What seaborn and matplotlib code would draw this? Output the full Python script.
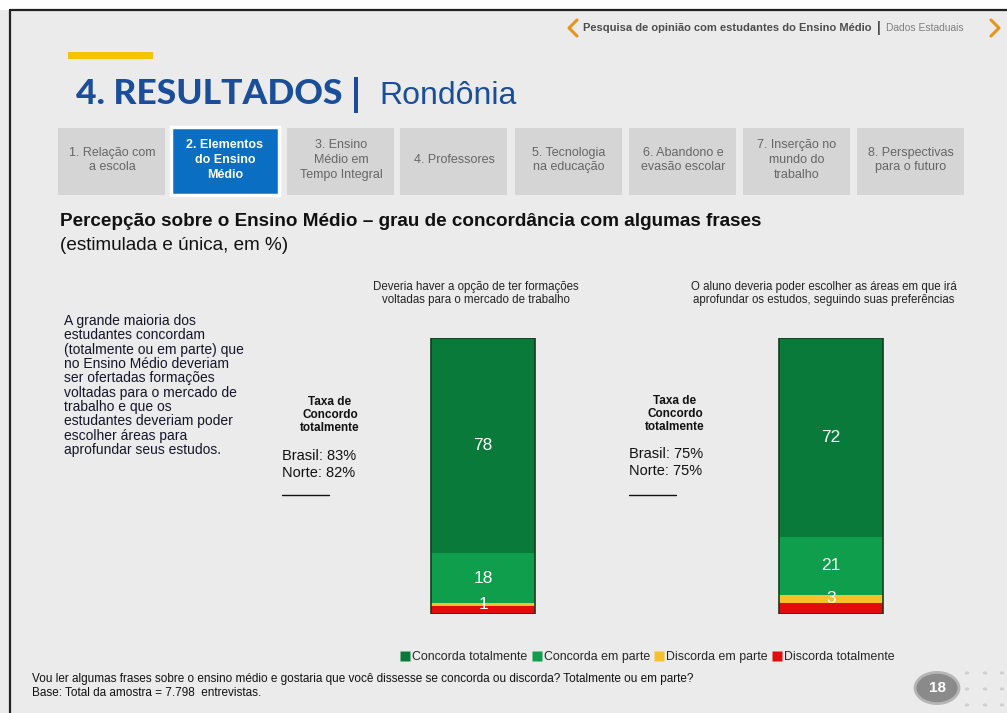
import matplotlib
matplotlib.use("Agg")
import matplotlib.pyplot as plt
from matplotlib.patches import Rectangle, Circle
from matplotlib.lines import Line2D
import seaborn as sns
import pandas as pd
import numpy as np

# ---------------- data ----------------
questions = ["Deveria haver a opção de ter formações\nvoltadas para o mercado de trabalho",
             "O aluno deveria poder escolher as áreas em que irá\naprofundar os estudos, seguindo suas preferências"]
categories = ["Concorda totalmente", "Concorda em parte", "Discorda em parte", "Discorda totalmente"]
concorda_totalmente = [78, 72]
concorda_em_parte = [18, 21]
discorda_em_parte = [1, 3]
discorda_totalmente = [3, 4]
labeled = ["Concorda totalmente", "Concorda em parte", "Discorda em parte"]
brasil_rate = [83, 75]
norte_rate = [82, 75]
tabs = ["1. Relação com\na escola", "2. Elementos\ndo Ensino\nMédio", "3. Ensino\nMédio em\nTempo Integral",
        "4. Professores", "5. Tecnologia\nna educação", "6. Abandono e\nevasão escolar",
        "7. Inserção no\nmundo do\ntrabalho", "8. Perspectivas\npara o futuro"]
active_tab = 1
page_number = "18"

colors = {"Concorda totalmente": "#0a7a3a", "Concorda em parte": "#0f9e4c",
          "Discorda em parte": "#f7c12a", "Discorda totalmente": "#e30b0b"}

W, H = 1007, 713
sns.set_theme(style="white")
plt.rcParams['font.family'] = ['Liberation Sans', 'DejaVu Sans']

fig = plt.figure(figsize=(W / 100, H / 100), dpi=100)
fig.patch.set_facecolor("#ebebeb")

def fx(x):
    return x / W

def fy(y):
    return 1 - y / H

# slide frame
fig.patches.append(Rectangle((0, fy(10)), 1, 10 / H, transform=fig.transFigure, facecolor="white", edgecolor="none"))
fig.lines.append(Line2D([fx(10), fx(10)], [fy(10), 0], transform=fig.transFigure, color="#222222", lw=1.6))
fig.lines.append(Line2D([fx(10), 1], [fy(10), fy(10)], transform=fig.transFigure, color="#222222", lw=1.6))

# header
orange = "#e8931a"
fig.lines.append(Line2D([fx(577), fx(569), fx(577)], [fy(20), fy(28), fy(36)], transform=fig.transFigure, color=orange, lw=2.2))
fig.lines.append(Line2D([fx(991), fx(999), fx(991)], [fy(20), fy(28), fy(36)], transform=fig.transFigure, color=orange, lw=2.2))
fig.text(fx(583), fy(28), "Pesquisa de opinião com estudantes do Ensino Médio", fontweight="bold",
         fontsize=8, color="#4d4d4d", va="center", ha="left")
fig.text(fx(879), fy(28), "|", fontweight="bold", fontsize=10, color="#4d4d4d", va="center", ha="center")
fig.text(fx(886), fy(28), "Dados Estaduais", fontsize=7.4, color="#808080", va="center", ha="left")

# yellow accent and title
fig.patches.append(Rectangle((fx(68), fy(59)), 85 / W, 7 / H, transform=fig.transFigure, facecolor="#f5c400", edgecolor="none"))
fig.text(fx(76), fy(94), "4. RESULTADOS", family=['Lato', 'Liberation Sans'], fontweight="black", fontsize=25.5,
         color="#1a4e9a", va="center", ha="left")
fig.text(fx(356), fy(95), "|", family=['Lato', 'Liberation Sans'], fontweight="black", fontsize=27,
         color="#1a4e9a", va="center", ha="center")
fig.text(fx(379), fy(96), "Rondônia", family=['Liberation Sans'], fontsize=23, color="#1a4e9a", va="center", ha="left")

# tabs
tab_x0 = [58, 171, 287, 400, 515, 629, 743, 857]
for i, (x0, label) in enumerate(zip(tab_x0, tabs)):
    if i == active_tab:
        fig.patches.append(Rectangle((fx(x0), fy(195)), 108 / W, 68 / H, transform=fig.transFigure,
                                     facecolor="#0a6fc2", edgecolor="white", lw=2.5))
        fig.text(fx(x0 + 54), fy(160), label, fontweight="bold", fontsize=9, color="white",
                 ha="center", va="center", linespacing=1.3)
    else:
        fig.patches.append(Rectangle((fx(x0), fy(195)), 107 / W, 67 / H, transform=fig.transFigure,
                                     facecolor="#d5d5d5", edgecolor="none"))
        fig.text(fx(x0 + 54), fy(160), label, fontsize=9, color="#666666",
                 ha="center", va="center", linespacing=1.3)

# section titles
fig.text(fx(60), fy(222), "Percepção sobre o Ensino Médio – grau de concordância com algumas frases",
         fontweight="bold", fontsize=13.6, color="#111111", va="center", ha="left")
fig.text(fx(60), fy(246), "(estimulada e única, em %)", fontsize=13.6, color="#111111", va="center", ha="left")

left_text = ("A grande maioria dos\nestudantes concordam\n(totalmente ou em parte) que\nno Ensino Médio deveriam\n"
             "ser ofertadas formações\nvoltadas para o mercado de\ntrabalho e que os\nestudantes deveriam poder\n"
             "escolher áreas para\naprofundar seus estudos.")
fig.text(fx(64), fy(314), left_text, fontsize=10, color="#15152a", va="top", ha="left", linespacing=1.03)

# taxa de concordo blocks
taxa_cx = [330, 675]
taxa_left = [282, 629]
taxa_y = [415, 414]
for i in range(2):
    fig.text(fx(taxa_cx[i]), fy(taxa_y[i]), "Taxa de\nConcordo\ntotalmente", fontweight="bold", fontsize=8.5,
             color="#111111", ha="center", va="center", linespacing=1.1)
    fig.text(fx(taxa_left[i]), fy(456 - 2 * i), f"Brasil: {brasil_rate[i]}%", fontsize=10.5, color="#111111",
             ha="left", va="center")
    fig.text(fx(taxa_left[i]), fy(473 - 2 * i), f"Norte: {norte_rate[i]}%", fontsize=10.5, color="#111111",
             ha="left", va="center")
    fig.lines.append(Line2D([fx(taxa_left[i]), fx(taxa_left[i] + 47)], [fy(495), fy(495)],
                            transform=fig.transFigure, color="#111111", lw=1))

# ---------------- chart ----------------
rows = []
vals = {"Concorda totalmente": concorda_totalmente, "Concorda em parte": concorda_em_parte,
        "Discorda em parte": discorda_em_parte, "Discorda totalmente": discorda_totalmente}
for qi in range(len(questions)):
    for c in categories:
        rows.append({"pos": qi, "cat": c, "value": vals[c][qi]})
df = pd.DataFrame(rows)

ax = fig.add_axes([fx(309), 1 - 614 / H, 696 / W, 276 / H])
sns.histplot(data=df, x="pos", weights="value", hue="cat", hue_order=categories, multiple="stack",
             discrete=True, shrink=0.3, palette=colors, alpha=1, linewidth=0, legend=False, ax=ax)
totals = df.groupby("pos")["value"].sum()
ax.bar(totals.index, totals.values, width=0.3, fill=False, edgecolor="#173b1f", linewidth=1.2)
ax.set_xlim(-0.5, 1.5)
ax.set_ylim(0, 100)
ax.axis("off")

# value labels at segment centres (bottom stack = last category)
for qi in range(len(questions)):
    bottom = 0
    for c in categories[::-1]:
        v = vals[c][qi]
        if c in labeled:
            ax.text(qi, bottom + v / 2, f"{v}", color="white", fontsize=12.5, ha="center", va="center")
        bottom += v
    ax.text(qi - 0.02, 116, questions[qi], fontsize=8.3, color="#222222", ha="center", va="center", linespacing=1.1)

# legend
handles = [Line2D([], [], marker="s", linestyle="none", markersize=6.5, markerfacecolor=colors[c],
                  markeredgecolor="none") for c in categories]
fig.legend(handles, categories, loc="center", bbox_to_anchor=(fx(647), fy(657)), ncol=4, frameon=False,
           handletextpad=0.1, columnspacing=0.3, handlelength=0.9, prop={"size": 8.9})

# footer
fig.text(fx(32), fy(679), "Vou ler algumas frases sobre o ensino médio e gostaria que você dissesse se concorda ou discorda? Totalmente ou em parte?",
         fontsize=8.5, color="#111111", ha="left", va="center")
fig.text(fx(32), fy(693), "Base: Total da amostra = 7.798  entrevistas.", fontsize=8.5,
         color="#111111", ha="left", va="center")

# page number
fig.patches.append(Circle((fx(937), fy(688)), 22 / W, transform=fig.transFigure, facecolor="#8a8a8a",
                          edgecolor="#b5b5b5", lw=2))
fig.text(fx(937), fy(688), page_number, fontweight="bold", fontsize=11, color="white", ha="center", va="center")
for dx in [967, 985, 1002]:
    for dy in [673, 689, 705]:
        fig.patches.append(Circle((fx(dx), fy(dy)), 2.2 / W, transform=fig.transFigure, facecolor="#cfcfcf",
                                  edgecolor="none"))

fig.savefig("out.png", dpi=100, facecolor=fig.get_facecolor())
